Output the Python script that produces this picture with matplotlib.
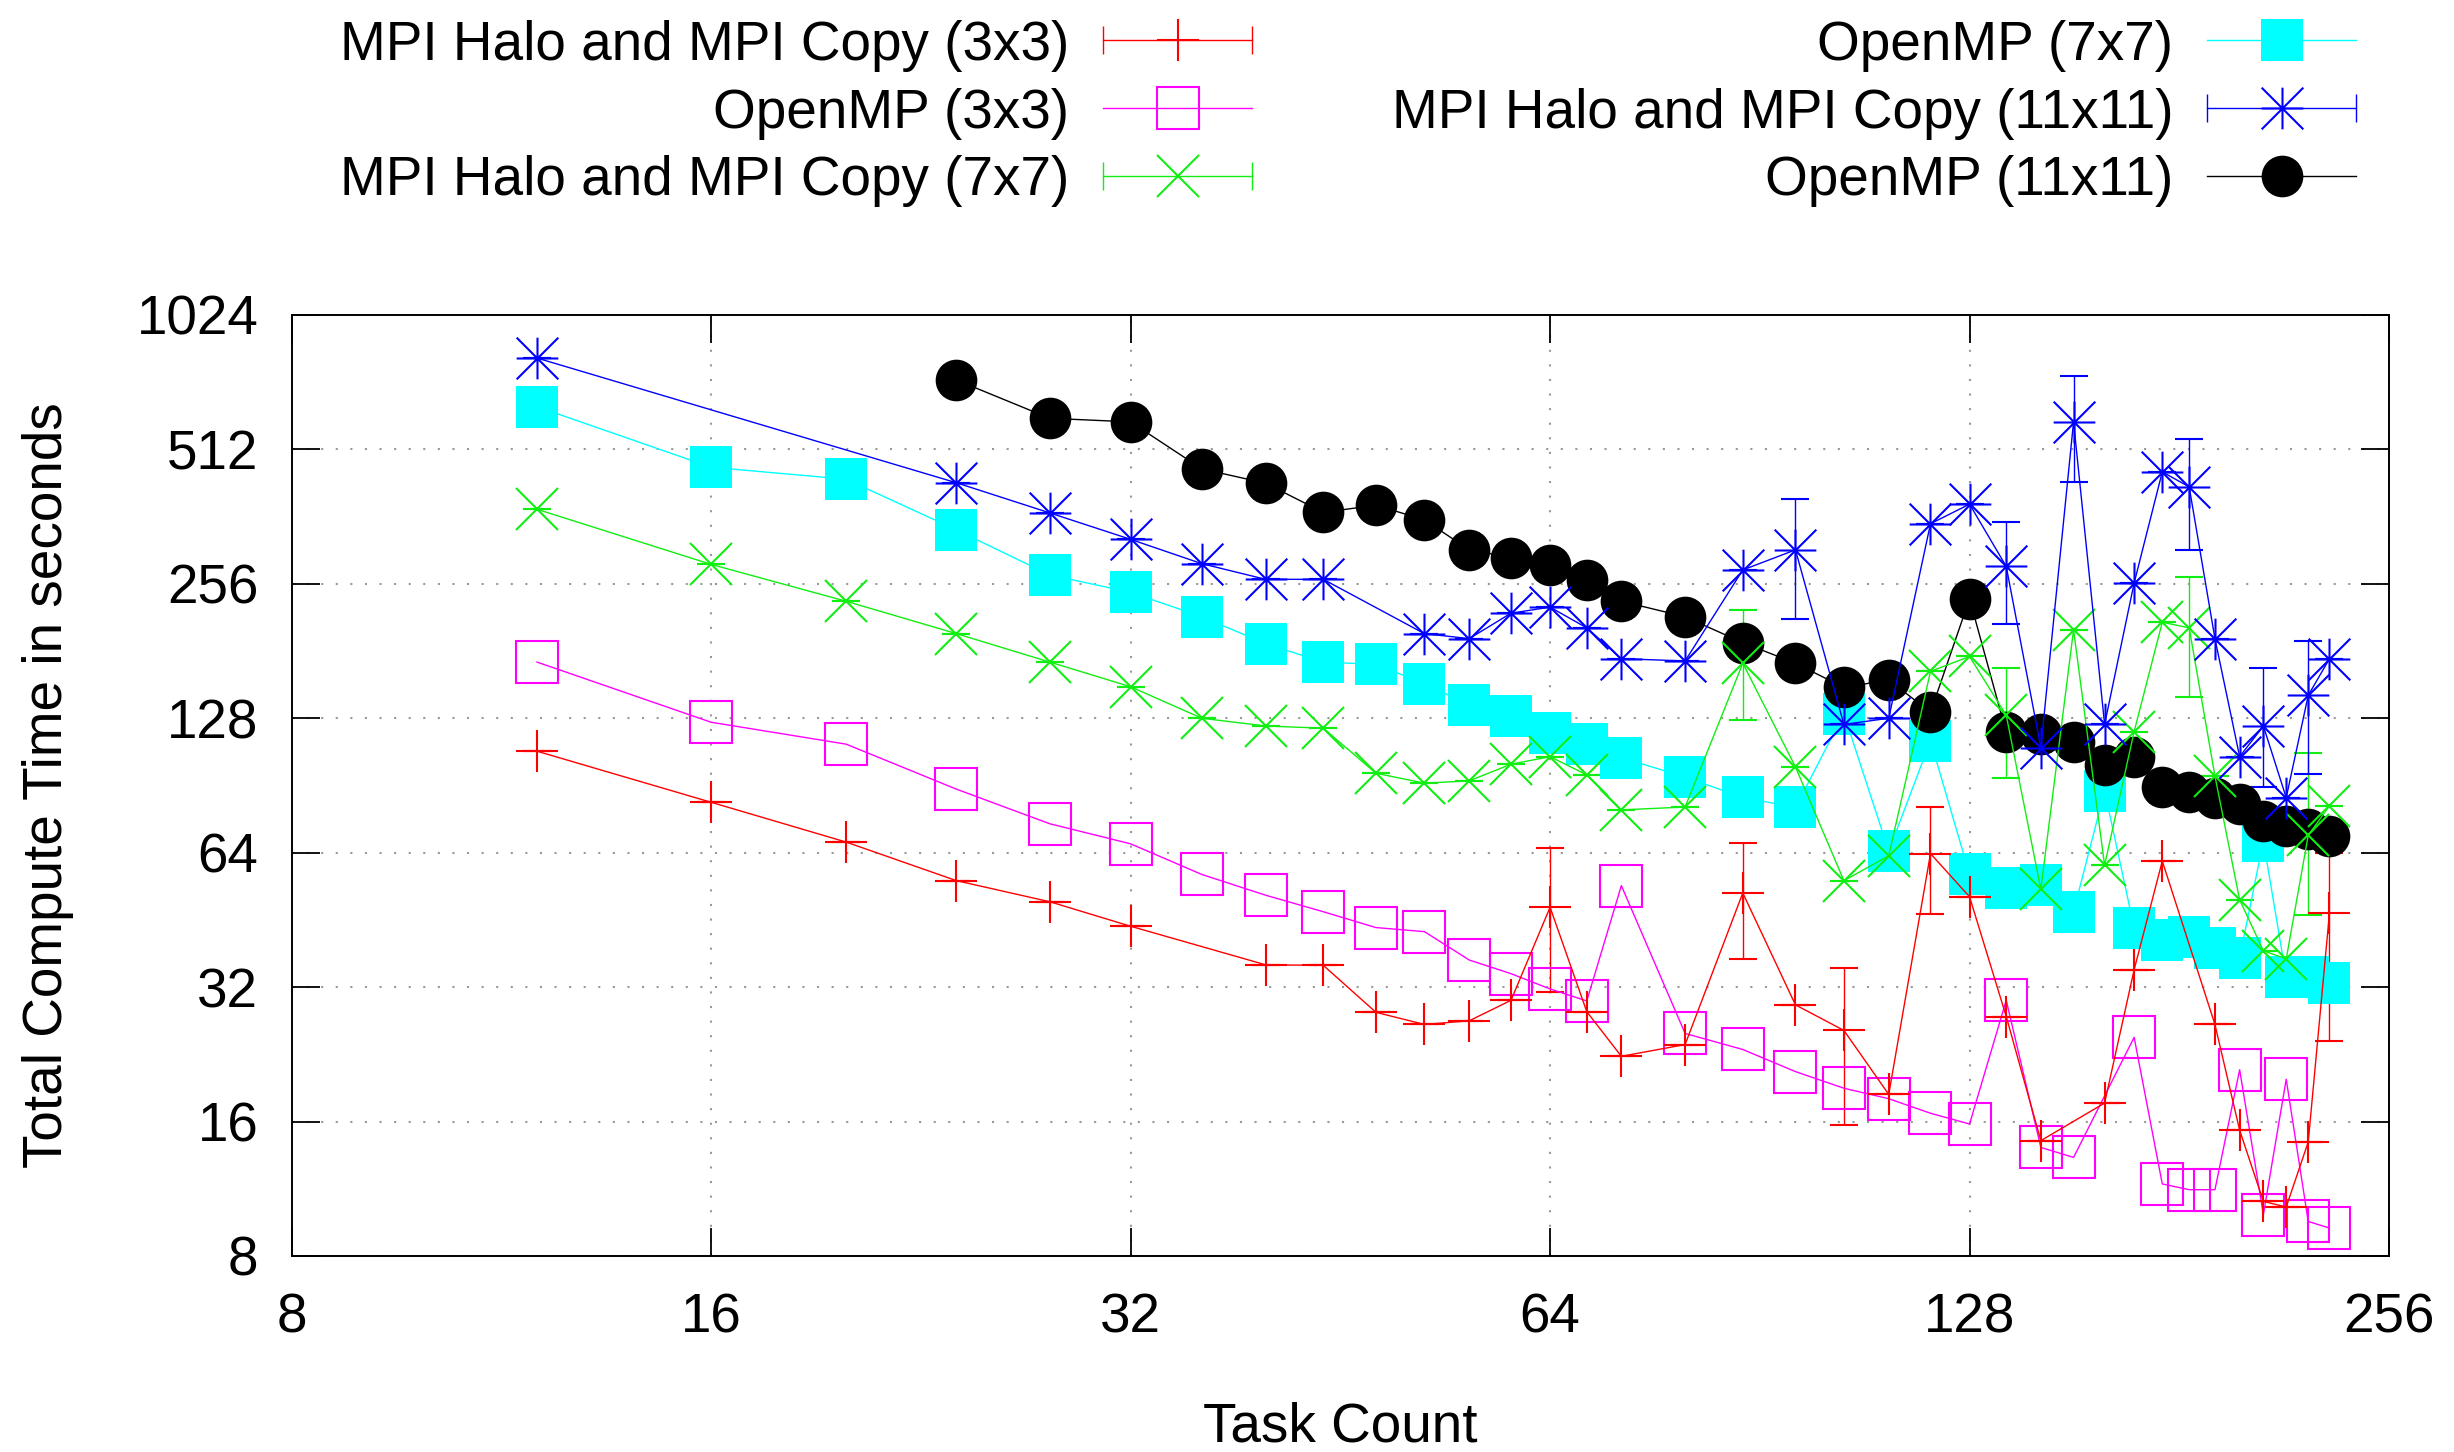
import matplotlib
matplotlib.use('Agg')
import matplotlib.pyplot as plt
import numpy as np
from matplotlib.path import Path
from matplotlib.lines import Line2D
from matplotlib.legend_handler import HandlerTuple, HandlerLine2D
from matplotlib.ticker import NullLocator, FixedLocator, FixedFormatter

plt.rcParams['font.family'] = ['Liberation Sans', 'DejaVu Sans']

# ---------------- data ----------------
x_ticks = [8, 16, 32, 64, 128, 256]
y_ticks = [8, 16, 32, 64, 128, 256, 512, 1024]

labels = ["MPI Halo and MPI Copy (3x3)", "OpenMP (3x3)", "MPI Halo and MPI Copy (7x7)",
          "OpenMP (7x7)", "MPI Halo and MPI Copy (11x11)", "OpenMP (11x11)"]

mpi3_x = [12, 16, 20, 24, 28, 32, 40, 44, 48, 52, 56, 60, 64, 68, 72, 80, 88, 96, 104, 112,
          120, 128, 136, 144, 160, 168, 176, 192, 200, 208, 216, 224, 232]
mpi3_y = [108, 83, 67.6, 55.4, 49.7, 43.8, 35.9, 35.8, 28.1, 26.4, 26.9, 29.9, 48.3, 28.2, 22.4, 23.8, 52, 29.2, 25.6, 18.4,
          63.7, 51, 27.5, 14.5, 17.6, 35, 61.3, 26.4, 15.3, 10.6, 10.3, 14.4, 46.9]
mpi3_err_x = [64, 88, 104, 120, 232]
mpi3_err_lo = [31.2, 36.9, 15.7, 46.7, 24.2]
mpi3_err_hi = [65.5, 67.3, 35.4, 80.8, 64]

omp3_x = [12, 16, 20, 24, 28, 32, 36, 40, 44, 48, 52, 56, 60, 64, 68, 72, 80, 88, 96, 104, 112,
          120, 128, 136, 144, 152, 168, 176, 184, 192, 200, 208, 216, 224, 232]
omp3_y = [171, 125.4, 112, 88.8, 74.3, 67, 57.2, 51.4, 47.2, 43.5, 42.6, 36.8, 34.3, 31.7, 29.8, 54, 25.2, 23.2, 20.7, 19.0, 18.0,
          16.7, 15.8, 29.9, 14.0, 13.3, 24.7, 11.6, 11.26, 11.26, 20.9, 9.9, 19.9, 9.56, 9.24]

mpi7_x = [12, 16, 20, 24, 28, 32, 36, 40, 44, 48, 52, 56, 60, 64, 68, 72, 80, 88, 96, 104, 112,
          120, 128, 136, 144, 152, 160, 168, 176, 184, 192, 200, 208, 216, 224, 232]
mpi7_y = [376, 283, 234, 198, 171, 150.6, 128, 123, 121.6, 96.4, 91.6, 92.7, 101, 105, 95.6, 79.8, 81, 170, 99.6, 55.4, 63,
          163, 176, 130, 53, 202, 60, 119.5, 210, 204, 95, 50.2, 38.6, 37, 70, 81.5]
mpi7_err_x = [88, 136, 184, 224]
mpi7_err_lo = [127, 94, 143, 46.5]
mpi7_err_hi = [224, 166, 265, 107]

omp7_x = [12, 16, 20, 24, 28, 32, 36, 40, 44, 48, 52, 56, 60, 64, 68, 72, 80, 88, 96, 104, 112,
          120, 128, 136, 144, 152, 160, 168, 176, 184, 192, 200, 208, 216, 224, 232]
omp7_y = [638, 467, 439, 338, 268, 245, 216, 188, 171, 169, 153, 137, 129.5, 118.4, 112, 104.5, 94.5, 85.1, 80.8, 131, 64.5,
          114, 57.2, 53.4, 54.3, 47.2, 88.1, 43.4, 40.9, 41.5, 39.2, 37.2, 68, 33.7, 33.7, 32.7]

mpi11_x = [12, 24, 28, 32, 36, 40, 44, 52, 56, 60, 64, 68, 72, 80, 88, 96, 104, 112,
           120, 128, 136, 144, 152, 160, 168, 176, 184, 192, 200, 208, 216, 224, 232]
mpi11_y = [820, 431, 369, 322, 284, 262, 262, 198, 193, 220, 227, 204, 174, 172, 275, 305, 124, 128,
           349, 386, 280, 110, 590, 124, 257, 456, 422, 193, 105, 123, 85, 144, 174]
mpi11_err_x = [96, 136, 152, 184, 208, 224]
mpi11_err_lo = [214, 208, 433, 305, 90, 96]
mpi11_err_hi = [396, 353, 749, 540, 166, 191]

omp11_x = [24, 28, 32, 36, 40, 44, 48, 52, 56, 60, 64, 68, 72, 80, 88, 96, 104, 112,
           120, 128, 136, 144, 152, 160, 168, 176, 184, 192, 200, 208, 216, 224, 232]
omp11_y = [732, 601, 590, 463, 430, 370, 384, 356, 305, 293, 282, 261, 234, 216, 189, 170, 150, 156,
           132, 237, 119, 118, 113, 100.8, 104.7, 89.6, 87.3, 84.8, 82.2, 75.4, 73.5, 72.2, 69.8]

# ---------------- style ----------------
RED, MAG, GRN, CYN, BLU, BLK = '#ff0000', '#ff00ff', '#11ee11', '#00ffff', '#0000ff', '#000000'
MS = 30
MEW = 1.5
LW = 1.0
CAP = 10

ast_path = Path([(-1, 0), (1, 0), (0, -1), (0, 1), (-1, -1), (1, 1), (-1, 1), (1, -1)],
                [Path.MOVETO, Path.LINETO] * 4)


def yerr_from(xs, ys, ex, elo, ehi):
    ys = np.asarray(ys, float)
    lo = ys.copy()
    hi = ys.copy()
    for xv, l, h in zip(ex, elo, ehi):
        i = list(xs).index(xv)
        lo[i] = l
        hi[i] = h
    return np.vstack([ys - lo, hi - ys])


fig = plt.figure(figsize=(24.54, 14.52), dpi=100)
ax = fig.add_axes([0.11883, 0.13499, 0.8547, 0.6481])

ax.set_xscale('log', base=2)
ax.set_yscale('log', base=2)

# 1) MPI 3x3
ax.errorbar(mpi3_x, mpi3_y, yerr=yerr_from(mpi3_x, mpi3_y, mpi3_err_x, mpi3_err_lo, mpi3_err_hi),
            color=RED, lw=LW, marker='+', ms=MS, mew=MEW, capsize=CAP, capthick=LW, elinewidth=LW)
# 2) OpenMP 3x3
ax.plot(omp3_x, omp3_y, color=MAG, lw=LW, marker='s', ms=MS, mew=MEW, mfc='none', mec=MAG)
# 3) MPI 7x7
ax.errorbar(mpi7_x, mpi7_y, yerr=yerr_from(mpi7_x, mpi7_y, mpi7_err_x, mpi7_err_lo, mpi7_err_hi),
            color=GRN, lw=LW, marker='x', ms=MS, mew=MEW, capsize=CAP, capthick=LW, elinewidth=LW)
# 4) OpenMP 7x7
ax.plot(omp7_x, omp7_y, color=CYN, lw=LW, marker='s', ms=MS, mew=0, mfc=CYN)
# 5) MPI 11x11
ax.errorbar(mpi11_x, mpi11_y, yerr=yerr_from(mpi11_x, mpi11_y, mpi11_err_x, mpi11_err_lo, mpi11_err_hi),
            color=BLU, lw=LW, marker=ast_path, ms=MS, mew=MEW, mfc='none', capsize=CAP, capthick=LW, elinewidth=LW)
# 6) OpenMP 11x11
ax.plot(omp11_x, omp11_y, color=BLK, lw=LW, marker='o', ms=MS, mew=0, mfc=BLK)

ax.set_xlim(8, 256)
ax.set_ylim(8, 1024)
ax.xaxis.set_major_locator(FixedLocator(x_ticks))
ax.xaxis.set_major_formatter(FixedFormatter([str(v) for v in x_ticks]))
ax.yaxis.set_major_locator(FixedLocator(y_ticks))
ax.yaxis.set_major_formatter(FixedFormatter([str(v) for v in y_ticks]))
ax.xaxis.set_minor_locator(NullLocator())
ax.yaxis.set_minor_locator(NullLocator())

ax.grid(True, which='major', color='#999999', linestyle=(0, (1, 6)), linewidth=1.5)
ax.set_axisbelow(True)
for s in ax.spines.values():
    s.set_linewidth(1.4)
ax.tick_params(axis='both', which='major', direction='in', top=True, right=True,
               length=20, width=1.3, labelsize=39.5)
ax.tick_params(axis='x', pad=26)
ax.tick_params(axis='y', pad=24)

ax.set_xlabel('Task Count', fontsize=39.5)
ax.set_ylabel('Total Compute Time in seconds', fontsize=39.5)
ax.xaxis.set_label_coords(0.5, -0.182)
ax.xaxis.label.set_va('center')
ax.yaxis.set_label_coords(-0.116, 0.5)
ax.yaxis.label.set_va('center')

# ---------------- legend ----------------
def mk_line(c, m, filled, mew):
    return Line2D([], [], color=c, lw=LW, marker=m, ms=MS, mew=mew,
                  mfc=(c if filled else 'none'), mec=c)

def mk_caps(c):
    return Line2D([], [], color=c, ls='none', marker='|', ms=20, mew=LW)

caps = [mk_caps(RED), mk_caps(GRN), mk_caps(BLU)]
handles = [
    (mk_line(RED, '+', False, MEW), caps[0]),
    mk_line(MAG, 's', False, MEW),
    (mk_line(GRN, 'x', False, MEW), caps[1]),
    mk_line(CYN, 's', True, 0),
    (mk_line(BLU, ast_path, False, MEW), caps[2]),
    mk_line(BLK, 'o', True, 0),
]
hmap = {tuple: HandlerTuple(ndivide=1, pad=0)}
for cp in caps:
    hmap[cp] = HandlerLine2D(numpoints=2, marker_pad=0)

fig.legend(handles, labels, ncol=2, markerfirst=False, frameon=False,
           loc='upper left', bbox_to_anchor=(0.1386, 0.9865), fontsize=39.5,
           handlelength=2.71, handletextpad=0.62, columnspacing=2.55,
           labelspacing=0.29, borderpad=0, borderaxespad=0, numpoints=1,
           handler_map=hmap)

fig.savefig('out.png', dpi=100)
